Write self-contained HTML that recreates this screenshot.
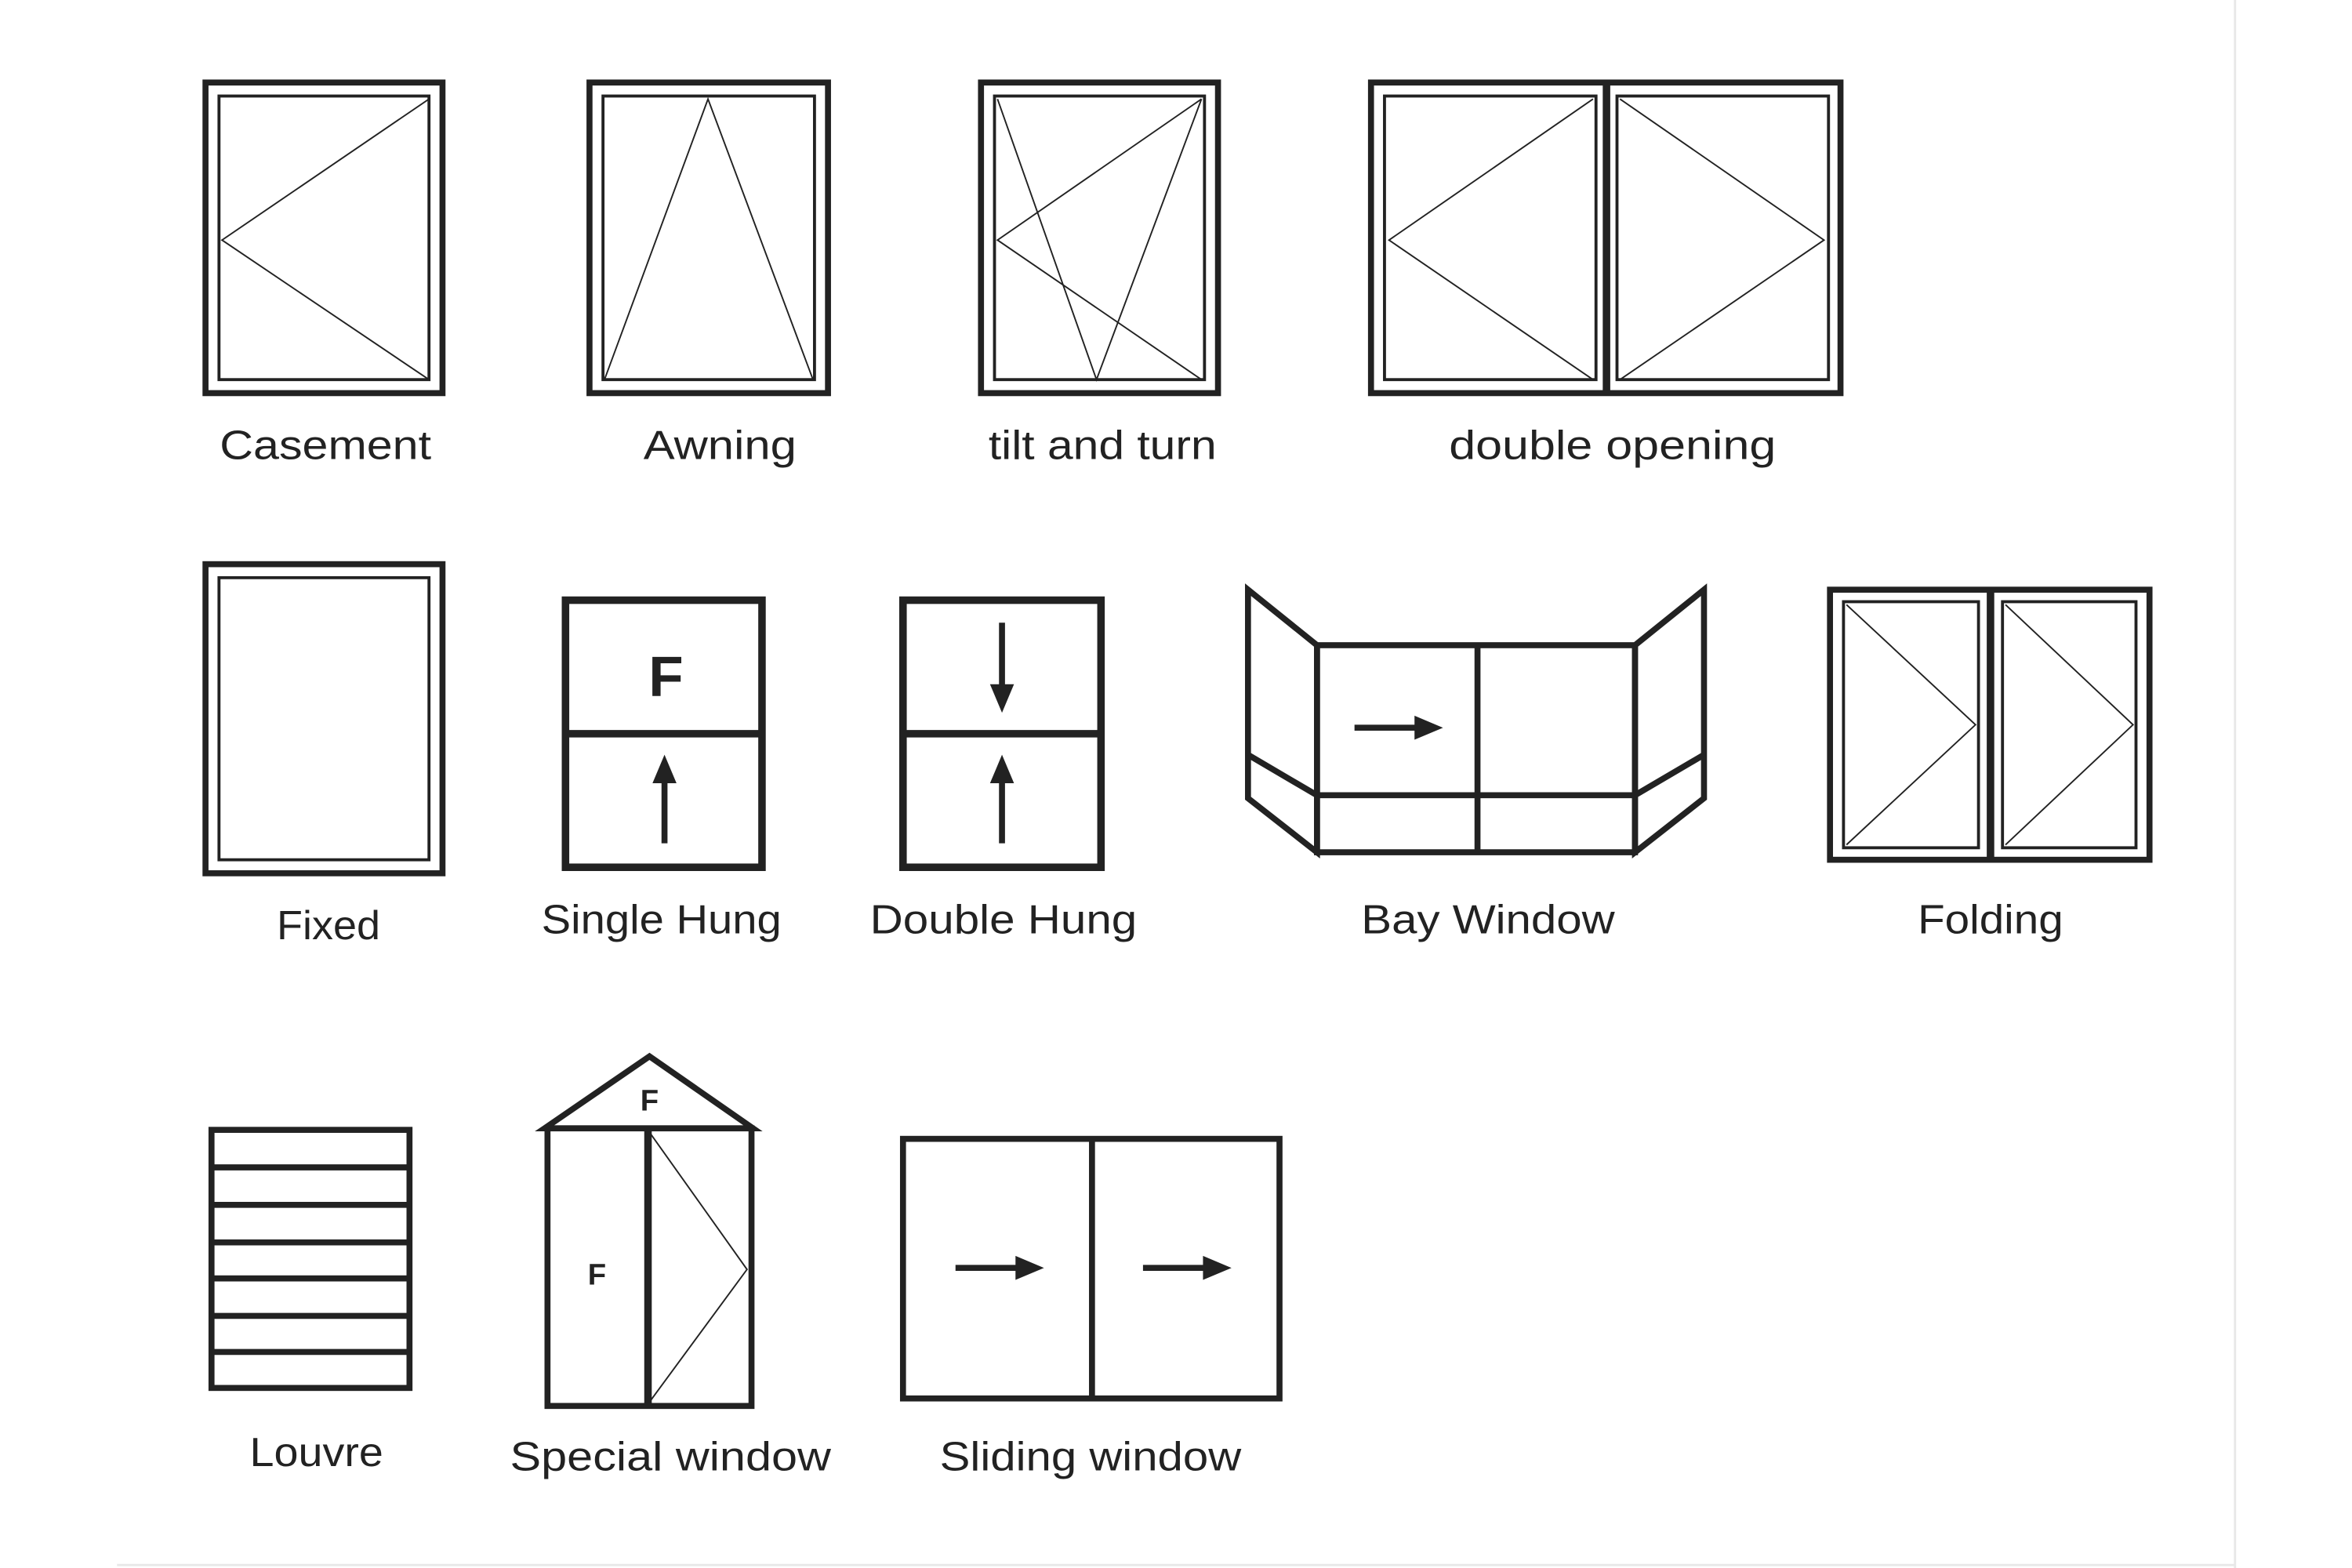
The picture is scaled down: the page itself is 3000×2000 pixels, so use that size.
<!DOCTYPE html>
<html><head><style>html,body{margin:0;padding:0;background:#fff}svg{display:block}</style></head>
<body>
<svg width="3000" height="2000" viewBox="0 0 1568 1045" preserveAspectRatio="none" xmlns="http://www.w3.org/2000/svg">
<rect width="1568" height="1045" fill="#fff"/>
<line x1="1490" y1="0" x2="1490" y2="1045" stroke="#e8e8e8" stroke-width="1.5"/>
<line x1="78" y1="1043" x2="1490" y2="1043" stroke="#e8e8e8" stroke-width="1.5"/>
<g fill="none" stroke="#222">
<rect x="137" y="55" width="158" height="207" stroke-width="4"/>
<rect x="146" y="64" width="140" height="189" stroke-width="2"/>
<polyline points="286,66 148,160 286,253" stroke-width="1"/>
<rect x="393" y="55" width="159" height="207" stroke-width="4"/>
<rect x="402" y="64" width="141" height="189" stroke-width="2"/>
<polyline points="403,253 472,66 542,253" stroke-width="1"/>
<rect x="654" y="55" width="158" height="207" stroke-width="4"/>
<rect x="663" y="64" width="140" height="189" stroke-width="2"/>
<polyline points="801,66 665,160 801,253" stroke-width="1"/>
<polyline points="665,66 731,253 801,66" stroke-width="1"/>
<rect x="914" y="55" width="313" height="207" stroke-width="4"/>
<line x1="1071" y1="55" x2="1071" y2="262" stroke-width="5"/>
<rect x="923" y="64" width="141" height="189" stroke-width="2"/>
<rect x="1078" y="64" width="141" height="189" stroke-width="2"/>
<polyline points="1062,66 926,160 1062,253" stroke-width="1"/>
<polyline points="1080,66 1216,160 1080,253" stroke-width="1"/>
<rect x="137" y="376" width="158" height="206" stroke-width="4"/>
<rect x="146" y="385" width="140" height="188" stroke-width="2"/>
<rect x="377" y="400" width="131" height="178" stroke-width="5"/>
<line x1="377" y1="489" x2="508" y2="489" stroke-width="5"/>
<rect x="602" y="400" width="132" height="178" stroke-width="5"/>
<line x1="602" y1="489" x2="734" y2="489" stroke-width="5"/>
<g stroke-width="4">
<polygon points="832,393 878,430 878,568 832,532"/>
<line x1="832" y1="503" x2="878" y2="530"/>
<rect x="878" y="430" width="212" height="138"/>
<line x1="985" y1="430" x2="985" y2="568"/>
<line x1="878" y1="530" x2="1090" y2="530"/>
<polygon points="1090,430 1136,393 1136,532 1090,568"/>
<line x1="1090" y1="530" x2="1136" y2="503"/>
</g>
<rect x="1220" y="393" width="213" height="180" stroke-width="4"/>
<line x1="1327" y1="393" x2="1327" y2="573" stroke-width="5"/>
<rect x="1229" y="401" width="90" height="164" stroke-width="2"/>
<rect x="1335" y="401" width="89" height="164" stroke-width="2"/>
<polyline points="1231,403 1317,483 1231,563" stroke-width="1"/>
<polyline points="1337,403 1422,483 1337,563" stroke-width="1"/>
<rect x="141" y="753" width="132" height="172" stroke-width="4"/>
<g stroke-width="4">
<line x1="141" y1="778" x2="273" y2="778"/><line x1="141" y1="803" x2="273" y2="803"/>
<line x1="141" y1="828" x2="273" y2="828"/><line x1="141" y1="852" x2="273" y2="852"/>
<line x1="141" y1="877" x2="273" y2="877"/><line x1="141" y1="901" x2="273" y2="901"/>
</g>
<polygon points="363,752 433,704 502,752" stroke-width="4"/>
<rect x="365" y="752" width="136" height="185" stroke-width="4"/>
<line x1="432" y1="752" x2="432" y2="937" stroke-width="5"/>
<polyline points="434,756 498,846 434,933" stroke-width="1"/>
<rect x="602" y="759" width="251" height="173" stroke-width="4"/>
<line x1="728" y1="759" x2="728" y2="932" stroke-width="4"/>
</g>
<g stroke="#222" stroke-width="4" fill="#222">
<line x1="443" y1="562" x2="443" y2="520"/><polygon points="435,522 443,503 451,522" stroke="none"/>
<line x1="668" y1="562" x2="668" y2="520"/><polygon points="660,522 668,503 676,522" stroke="none"/>
<line x1="668" y1="415" x2="668" y2="458"/><polygon points="660,456 668,475 676,456" stroke="none"/>
<line x1="903" y1="485" x2="945" y2="485"/><polygon points="943,477 962,485 943,493" stroke="none"/>
<line x1="637" y1="845" x2="679" y2="845"/><polygon points="677,837 696,845 677,853" stroke="none"/>
<line x1="762" y1="845" x2="804" y2="845"/><polygon points="802,837 821,845 802,853" stroke="none"/>
</g>
<g font-family="Liberation Sans, sans-serif" fill="#222" text-anchor="middle">
<text x="444" y="464" font-size="38" font-weight="bold">F</text>
<text x="433" y="740" font-size="20" font-weight="bold">F</text>
<text x="398" y="856" font-size="20" font-weight="bold">F</text>
</g>
<g font-family="Liberation Sans, sans-serif" fill="#222" text-anchor="middle" font-size="27" lengthAdjust="spacingAndGlyphs">
<text x="217" y="306" textLength="141" lengthAdjust="spacingAndGlyphs">Casement</text>
<text x="480" y="306" textLength="102" lengthAdjust="spacingAndGlyphs">Awning</text>
<text x="735" y="306" textLength="152" lengthAdjust="spacingAndGlyphs">tilt and turn</text>
<text x="1075" y="306" textLength="218" lengthAdjust="spacingAndGlyphs">double opening</text>
<text x="219" y="626" textLength="69" lengthAdjust="spacingAndGlyphs">Fixed</text>
<text x="441" y="622" textLength="160" lengthAdjust="spacingAndGlyphs">Single Hung</text>
<text x="669" y="622" textLength="178" lengthAdjust="spacingAndGlyphs">Double Hung</text>
<text x="992" y="622" textLength="169" lengthAdjust="spacingAndGlyphs">Bay Window</text>
<text x="1327" y="622" textLength="97" lengthAdjust="spacingAndGlyphs">Folding</text>
<text x="211" y="977" textLength="89" lengthAdjust="spacingAndGlyphs">Louvre</text>
<text x="447" y="980" textLength="214" lengthAdjust="spacingAndGlyphs">Special window</text>
<text x="727" y="980" textLength="201" lengthAdjust="spacingAndGlyphs">Sliding window</text>
</g>
</svg>
</body></html>
